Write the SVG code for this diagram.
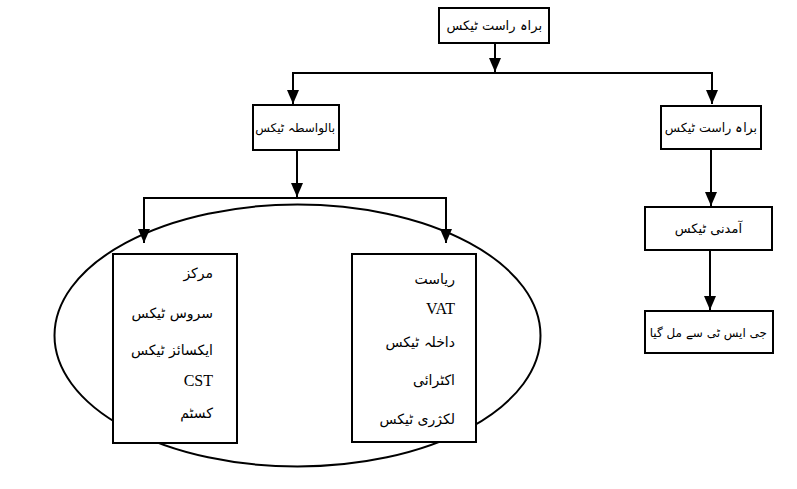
<svg xmlns="http://www.w3.org/2000/svg" width="797" height="489" viewBox="0 0 797 489">
<defs>
<marker id="ah" markerUnits="userSpaceOnUse" markerWidth="14" markerHeight="12" refX="14" refY="6" orient="auto" viewBox="0 0 14 12">
<path d="M0,0 L14,6 L0,12 Z" fill="#000"/>
</marker>
<style>
.box{fill:#fff;stroke:#000;stroke-width:2}
.ln{fill:none;stroke:#000;stroke-width:2}
.ur{font-family:"DejaVu Sans","Noto Sans",sans-serif;font-size:14px;fill:#000}
.lb{font-family:"DejaVu Sans","Noto Sans",sans-serif;font-size:13px;fill:#000}
.en{font-family:"Liberation Serif",serif;font-size:16px;fill:#000}
</style>
</defs>
<rect width="797" height="489" fill="#fff"/>
<g id="connectors">
<line class="ln" x1="495" y1="43" x2="495" y2="72" marker-end="url(#ah)"/>
<polyline class="ln" points="293,90 293,73 712,73 712,90"/>
<line class="ln" x1="293" y1="80" x2="293" y2="104" marker-end="url(#ah)"/>
<line class="ln" x1="712" y1="80" x2="712" y2="104" marker-end="url(#ah)"/>
<line class="ln" x1="297" y1="150" x2="297" y2="197" marker-end="url(#ah)"/>
<polyline class="ln" points="144,215 144,198 446,198 446,215"/>
<line class="ln" x1="144" y1="205" x2="144" y2="243" marker-end="url(#ah)"/>
<line class="ln" x1="446" y1="205" x2="446" y2="243" marker-end="url(#ah)"/>
<line class="ln" x1="711" y1="149" x2="711" y2="206" marker-end="url(#ah)"/>
<line class="ln" x1="710" y1="250" x2="710" y2="310" marker-end="url(#ah)"/>
</g>
<g id="group-ellipse">
<ellipse class="ln" cx="297.5" cy="335.5" rx="243" ry="131"/>
</g>
<g id="n-top">
<rect class="box" x="439" y="8" width="110" height="35"/>
<text class="lb" x="542" y="30" text-anchor="end">براہ راست ٹیکس</text>
</g>
<g id="n-indirect">
<rect class="box" x="253" y="105" width="86" height="45"/>
<text class="lb" x="335" y="132" text-anchor="end" style="font-size:12px">بالواسطہ ٹیکس</text>
</g>
<g id="n-direct">
<rect class="box" x="661" y="106" width="100" height="43"/>
<text class="lb" x="757" y="132" text-anchor="end" style="font-size:12.5px">براہ راست ٹیکس</text>
</g>
<g id="n-income">
<rect class="box" x="645" y="207" width="127" height="43"/>
<text class="lb" x="742" y="233" text-anchor="end">آمدنی ٹیکس</text>
</g>
<g id="n-gst">
<rect class="box" x="645" y="311" width="128" height="42"/>
<text class="lb" x="767" y="337" text-anchor="end" style="font-size:12px">جی ایس ٹی سے مل گیا</text>
</g>
<g id="n-centre">
<rect class="box" x="113" y="254" width="124" height="189"/>
<text class="ur" x="213" y="278" text-anchor="end">مرکز</text>
<text class="ur" x="213" y="318" text-anchor="end">سروس ٹیکس</text>
<text class="ur" x="213" y="355" text-anchor="end">ایکسائز ٹیکس</text>
<text class="en" x="213" y="386" text-anchor="end">CST</text>
<text class="ur" x="213" y="418" text-anchor="end">کسٹم</text>
</g>
<g id="n-state">
<rect class="box" x="352" y="254" width="124" height="188"/>
<text class="ur" x="455" y="284" text-anchor="end">ریاست</text>
<text class="en" x="455" y="314" text-anchor="end">VAT</text>
<text class="ur" x="455" y="347" text-anchor="end">داخلہ ٹیکس</text>
<text class="ur" x="455" y="385" text-anchor="end">اکٹرائی</text>
<text class="ur" x="455" y="424" text-anchor="end">لکژری ٹیکس</text>
</g>
</svg>
